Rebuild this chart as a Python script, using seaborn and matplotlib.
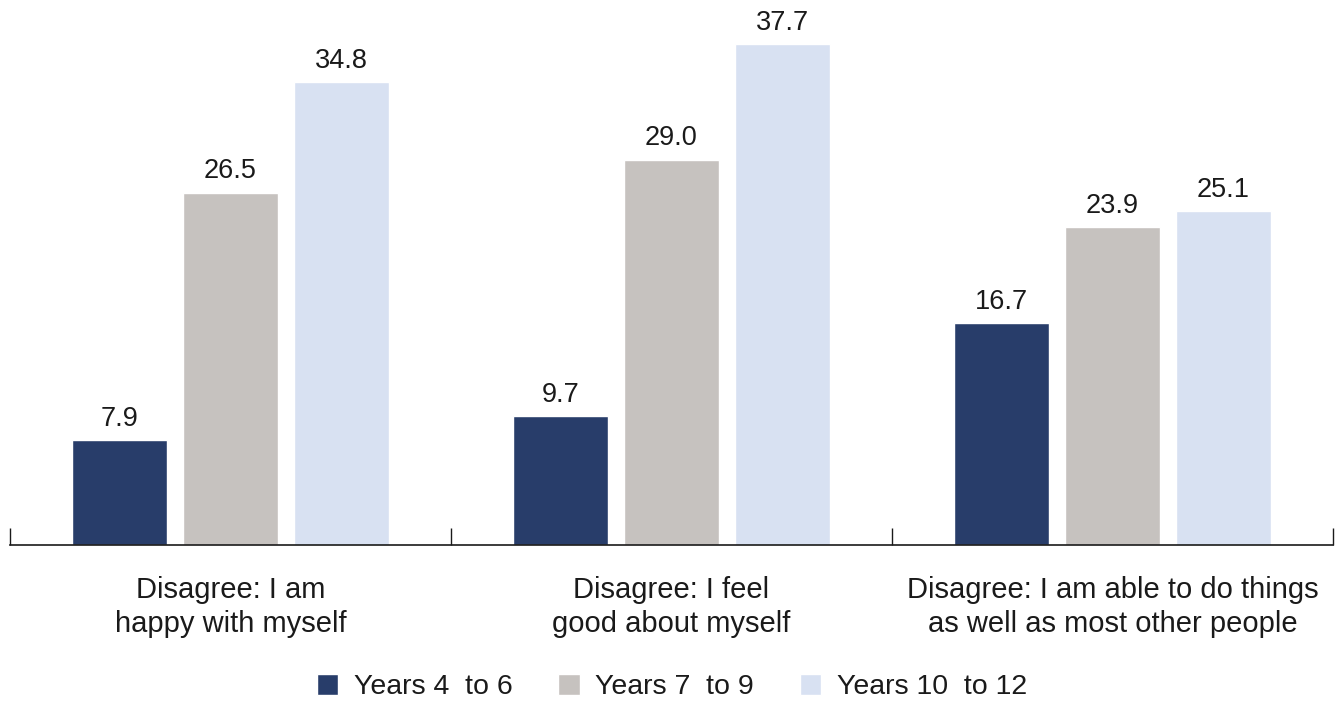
import seaborn as sns
import matplotlib.pyplot as plt
import pandas as pd

# data
questions = ['Disagree: I am\nhappy with myself',
             'Disagree: I feel\ngood about myself',
             'Disagree: I am able to do things\nas well as most other people']
groups = ['Years 4  to 6', 'Years 7  to 9', 'Years 10  to 12']
years_4_6 = [7.9, 9.7, 16.7]
years_7_9 = [26.5, 29.0, 23.9]
years_10_12 = [34.8, 37.7, 25.1]
colours = ['#283d6a', '#c6c2bf', '#d8e1f2']

rows = []
for g, vals in zip(groups, [years_4_6, years_7_9, years_10_12]):
    for q, v in zip(questions, vals):
        rows.append({'question': q, 'group': g, 'value': v})
df = pd.DataFrame(rows)

sns.set_style('white')
plt.rcParams['font.family'] = ['Liberation Sans', 'DejaVu Sans']
plt.rcParams['text.color'] = '#1a1a1a'

fig = plt.figure(figsize=(13.44, 7.02), dpi=100)
ax = fig.add_axes([10 / 1344, 157 / 702, 1323 / 1344, 545 / 702])

sns.barplot(data=df, x='question', y='value', hue='group', order=questions,
            hue_order=groups, palette=colours, width=0.755, gap=0.15,
            saturation=1, ax=ax, legend=True)

# value labels over the bars
for cont in ax.containers:
    ax.bar_label(cont, fmt='%.1f', padding=6, fontsize=19.5, color='#1a1a1a')

ax.set_xlim(-0.5, 2.5)
ax.set_ylim(0, 41)
ax.set_xlabel('')
ax.set_ylabel('')
ax.set_yticks([])
for s in ['top', 'right', 'left']:
    ax.spines[s].set_visible(False)
ax.spines['bottom'].set_color('#1a1a1a')
ax.spines['bottom'].set_linewidth(1.2)

# group separators as small upward ticks
ax.set_xticks([-0.5, 0.5, 1.5, 2.5], minor=True)
ax.tick_params(axis='x', which='minor', bottom=True, direction='in',
               length=12, width=1, color='#1a1a1a')
ax.tick_params(axis='x', which='major', bottom=False, length=0, pad=22,
               labelsize=21, labelcolor='#1a1a1a')
for lab in ax.get_xticklabels():
    lab.set_linespacing(1.3)

ax.get_legend().remove()
handles, labels = ax.get_legend_handles_labels()
fig.legend(handles, labels, loc='center', bbox_to_anchor=(0.5, 15 / 702),
           ncol=3, frameon=False, fontsize=20.5, handlelength=0.75,
           handleheight=0.75, handletextpad=0.55, columnspacing=1.6)

fig.savefig('out.png', dpi=100)
